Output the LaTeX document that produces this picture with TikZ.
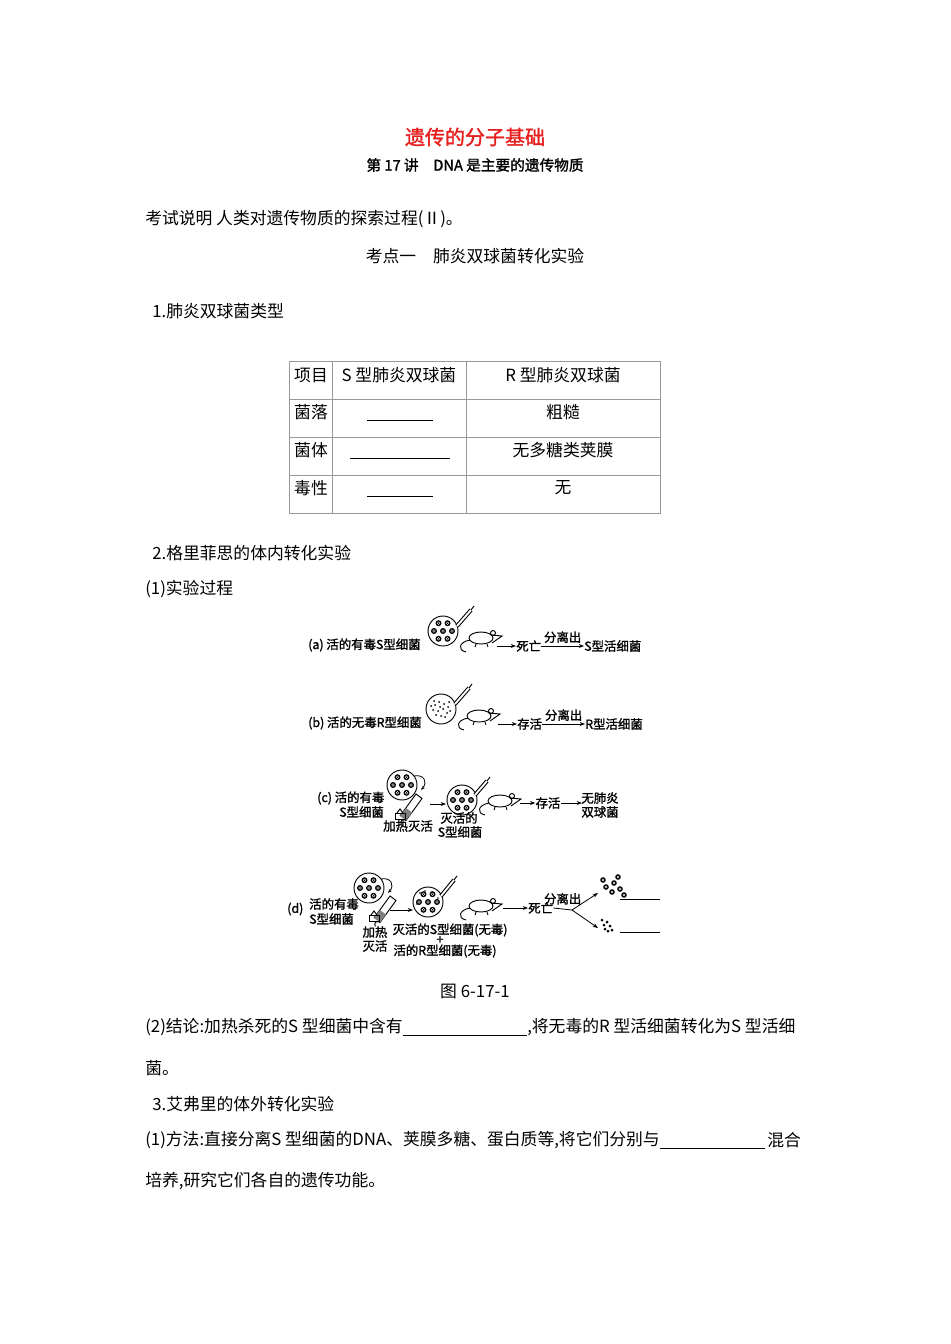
\documentclass[tikz,border=0pt]{standalone}
\usepackage{fontspec}
\setmainfont{Liberation Serif}
\newfontfamily\cjk{Noto Sans CJK SC}
\newfontfamily\cjkb{Noto Sans CJK SC}[FakeBold=1.5]
\usetikzlibrary{arrows.meta}
\definecolor{titlered}{RGB}{230,30,30}
\tikzset{
 body/.style={font=\cjk\fontsize{12.6}{15}\selectfont,inner sep=0pt,anchor=west},
 fig/.style={font=\cjkb\fontsize{9.3}{11}\selectfont,inner sep=0pt},
 farr/.style={-{Stealth[length=4pt]},line width=0.6pt},
 blank/.style={line width=0.6pt},
 grid/.style={draw=black!40,line width=0.5pt}
}
\newcommand{\sdish}[3]{% x y r
 \draw[line width=0.7pt] (#1,#2) circle (#3);
 \foreach \a/\d in {0/0,60/0.6,120/0.6,180/0.6,240/0.6,300/0.6,0/0.6}{
   \fill ({#1+\d*#3*cos(\a)},{#2+\d*#3*sin(\a)}) circle (3);
   \fill[white] ({#1+\d*#3*cos(\a)},{#2+\d*#3*sin(\a)}) circle (1.6);
   \fill ({#1+\d*#3*cos(\a)},{#2+\d*#3*sin(\a)}) circle (0.8);}
}
\newcommand{\rdish}[3]{%
 \draw[line width=0.7pt] (#1,#2) circle (#3);
 \foreach \dx/\dy in {-6/-4,-2/-7,3/-5,7/-2,-8/1,-3/2,2/0,6/4,-5/6,0/7,4/8,-1/-2,8/-7,-7/-8,9/2,-10/-3}{
   \fill (#1+\dx,#2+\dy) circle (1);}
}
\newcommand{\mouse}[2]{%
 \draw[line width=0.7pt] (#1,#2) ellipse (12 and 6);
 \draw[line width=0.7pt] (#1+10,#2-3) -- (#1+21,#2-2) -- (#1+11,#2+5);
 \draw[line width=0.7pt] (#1+12,#2-5) circle (2.5);
 \draw[line width=0.7pt] (#1-11,#2+2) .. controls (#1-22,#2+4) and (#1-24,#2+12) .. (#1-15,#2+14);
 \draw[line width=0.7pt] (#1-5,#2+6) -- (#1-6,#2+9) (#1+6,#2+6) -- (#1+7,#2+9);
}
\newcommand{\syringe}[4]{%
 \draw[line width=3pt] (#1,#2) -- (#3,#4);
 \draw[white,line width=1.4pt] (#1,#2) -- (#3,#4);
 \draw[line width=0.7pt] (#3,#4) -- ++(3,-4);
}
\newcommand{\tube}[3]{%
 \draw[line width=0.7pt,fill=white] (#1,#2) -- ++(16,-22) -- ++(6,4.5) -- ++(-16,22) arc (-40:-220:3) ;
 \fill[gray] (#1,#2) -- ++(6,-8) -- ++(6,4.5) -- ++(-6,8) -- cycle;
 \draw[line width=0.7pt] (#1-5,#3) rectangle ++(10,-6);
 \draw[line width=0.7pt] (#1-3,#3-6) -- (#1,#3-10) -- (#1+3,#3-6);
}
\begin{document}
\begin{tikzpicture}[x=0.75pt,y=-0.75pt]
\useasboundingbox (0,0) rectangle (950,1344);
\node[font=\cjkb\fontsize{15}{17}\selectfont,text=titlered,inner sep=0pt] (title) at (475,137) {遗传的分子基础};
\node[font=\cjkb\fontsize{11}{13}\selectfont,inner sep=0pt] (sub) at (475,165) {第 17 讲\quad DNA 是主要的遗传物质};
\node[body] (ksh) at (145,219) {考试说明 人类对遗传物质的探索过程(Ⅱ)。};
\node[body,anchor=center] (kd) at (475,256) {考点一\quad 肺炎双球菌转化实验};
\node[body] (s1) at (152,311) {1.肺炎双球菌类型};
\draw[grid] (289,361) rectangle (660,513);
\foreach \y in {399,437,475} \draw[grid] (289,\y) -- (660,\y);
\draw[grid] (332,361) -- (332,513);
\draw[grid] (466,361) -- (466,513);
\node[body,anchor=center] (h1) at (311,375) {项目};
\node[body,anchor=center] (h2) at (399,375) {S 型肺炎双球菌};
\node[body,anchor=center] (h3) at (563,375) {R 型肺炎双球菌};
\node[body,anchor=center] (r1) at (311,412) {菌落};
\node[body,anchor=center] (r2) at (311,450) {菌体};
\node[body,anchor=center] (r3) at (311,488) {毒性};
\node[body,anchor=center] (c1) at (563,412) {粗糙};
\node[body,anchor=center] (c2) at (563,450) {无多糖类荚膜};
\node[body,anchor=center] (c3) at (563,488) {无};
\draw[blank] (367,420) -- (433,420);
\draw[blank] (350,458) -- (450,458);
\draw[blank] (367,496) -- (433,496);
\node[body] (s2) at (152,553) {2.格里菲思的体内转化实验};
\node[body] (s21) at (145,589) {(1)实验过程};
% (a)
\node[fig,anchor=west] (la) at (308,645) {(a) 活的有毒S型细菌};
\sdish{443}{631}{15}
\syringe{457}{626}{471}{610}
\mouse{481}{638}
\node[fig,anchor=west] (da) at (516,646) {死亡};
\draw[farr] (497,646) -- (da.west);
\node[fig,anchor=west] (sa) at (584,646) {S型活细菌};
\draw[farr] (da.east) -- node[fig,above=2pt] {分离出} (sa.west);
% (b)
\node[fig,anchor=west] (lb) at (308,723) {(b) 活的无毒R型细菌};
\rdish{441}{709}{15}
\syringe{455}{704}{469}{688}
\mouse{479}{716}
\node[fig,anchor=west] (db) at (517,724) {存活};
\node[fig,anchor=west] (sb) at (585,724) {R型活细菌};
\draw[farr] (498,724) -- (db.west);
\draw[farr] (db.east) -- node[fig,above=2pt] {分离出} (sb.west);
% (c)
\node[fig,anchor=west] (lc) at (317,798) {(c) 活的有毒};
\node[fig,anchor=west] (lc2) at (339,812) {S型细菌};
\sdish{402}{785}{15}
\draw[line width=0.6pt,-{Stealth[length=3pt]}] (414,776) .. controls (424,774) and (428,782) .. (421,790);
\tube{400}{816}{819}
\node[fig] (hc) at (408,826) {加热灭活};
\sdish{462}{800}{15}
\node[fig] (kc) at (459,818) {灭活的};
\node[fig] (kc2) at (460,832) {S型细菌};
\draw[farr] (430,804) -- (446,804);
\syringe{475}{795}{487}{781}
\mouse{500}{801}
\node[fig] (cs) at (548,803) {存活};
\draw[farr] (520,803) -- (cs.west);
\node[fig] (wf) at (600,798) {无肺炎};
\node[fig] (wf2) at (600,812) {双球菌};
\draw[farr] (cs.east) -- (582,803);
% (d)
\node[fig,anchor=west] (ld0) at (287,909) {(d)};
\node[fig,anchor=west] (ld) at (309,904) {活的有毒};
\node[fig,anchor=west] (ld2) at (309,919) {S型细菌};
\sdish{369}{888}{15}
\draw[line width=0.6pt,-{Stealth[length=3pt]}] (381,879) .. controls (391,877) and (395,885) .. (388,893);
\tube{374}{918}{921}
\node[fig] (jr) at (375,932) {加热};
\node[fig] (jr2) at (375,946) {灭活};
\draw[farr] (390,910) -- (413,910);
\sdish{428}{902}{15}
\foreach \dx/\dy in {-8/-9,-3/-11,4/-10,10/-4,-11/2} \fill (428+\dx,902+\dy) circle (0.8);
\syringe{441}{896}{454}{880}
\mouse{481}{906}
\node[fig] (ks) at (450,930) {灭活的S型细菌(无毒)};
\node[fig] (pl) at (440,940) {+};
\node[fig] (hr) at (445,951) {活的R型细菌(无毒)};
\node[fig,anchor=west] (sw) at (528,908) {死亡};
\draw[farr] (503,908) -- (sw.west);
\coordinate (fork) at (572,910);
\draw[line width=0.6pt] (sw.east) -- node[fig,above=3pt] {分离出} (fork);
\draw[farr] (fork) -- (598,893);
\draw[farr] (fork) -- (598,928);
\foreach \dx/\dy in {0/0,8/-4,6/5,14/2,-3/-7,12/-10,18/8} {
  \fill (606+\dx,887+\dy) circle (2.8); \fill[white] (606+\dx,887+\dy) circle (1.3); \fill (606+\dx,887+\dy) circle (0.6);}
\foreach \dx/\dy in {0/0,3/-3,6/1,1/4,8/5,-2/-5,4/6} \fill (604+\dx,925+\dy) circle (1.5);
\draw[blank] (620,899) -- (660,899);
\draw[blank] (620,932) -- (660,932);
\node[body,anchor=center] (cap) at (475,991) {图 6-17-1};
\node[body] (t1) at (145,1027) {(2)结论:加热杀死的S 型细菌中含有};
\coordinate (b1) at (527,1035);
\draw[blank] (t1.south east |- b1) -- (b1);
\node[body] (t1b) at (527,1027) {,将无毒的R 型活细菌转化为S 型活细};
\node[body] (t2) at (145,1068) {菌。};
\node[body] (s3) at (152,1104) {3.艾弗里的体外转化实验};
\node[body] (t3) at (145,1140) {(1)方法:直接分离S 型细菌的DNA、荚膜多糖、蛋白质等,将它们分别与};
\coordinate (b3) at (765,1148);
\draw[blank] (t3.south east |- b3) -- (b3);
\node[body] (t3b) at (767,1140) {混合};
\node[body] (t4) at (145,1181) {培养,研究它们各自的遗传功能。};
\end{tikzpicture}
\end{document}
